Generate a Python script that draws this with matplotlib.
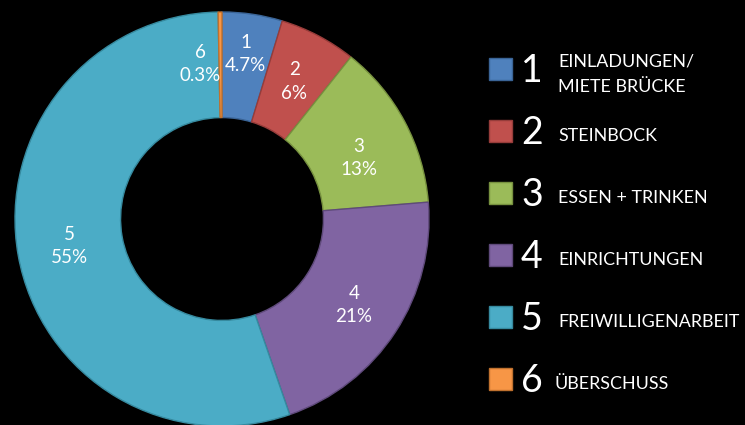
import matplotlib
matplotlib.use("Agg")
import matplotlib.pyplot as plt
import matplotlib.patches as mpatches
import numpy as np

numbers = ["1", "2", "3", "4", "5", "6"]
values = [4.7, 6, 13, 21, 55, 0.3]
pct_labels = ["4.7%", "6%", "13%", "21%", "55%", "0.3%"]
legend_labels = ["EINLADUNGEN/\nMIETE BRÜCKE", "STEINBOCK", "ESSEN + TRINKEN",
                 "EINRICHTUNGEN", "FREIWILLIGENARBEIT", "ÜBERSCHUSS"]
colors = ["#4F81BD", "#C0504D", "#9BBB59", "#8064A2", "#4BACC6", "#F79646"]
edges = ["#3A6496", "#963C3A", "#77913F", "#5F4A7B", "#368A9F", "#C0712E"]

W, H = 745, 425
fig = plt.figure(figsize=(W / 100, H / 100), dpi=100, facecolor="black")
FONT = "Lato"

cx, cy, R = 222, 219, 207
ax = fig.add_axes([(cx - R) / W, (H - cy - R) / H, 2 * R / W, 2 * R / H])
ax.set_facecolor("black")
ax.axis("off")
wedges, _ = ax.pie(values, colors=colors, startangle=90, counterclock=False,
                   radius=1.0, wedgeprops=dict(width=0.51, linewidth=1.0))
for w, e in zip(wedges, edges):
    w.set_edgecolor(e)
ax.set_xlim(-1, 1)
ax.set_ylim(-1, 1)

# labels inside ring
label_r = 0.75
offsets = {5: (-0.097, 0.0), 0: (0.005, 0.055), 2: (0.0, -0.06), 3: (0.01, -0.005)}
for i, w in enumerate(wedges):
    ang = np.deg2rad((w.theta1 + w.theta2) / 2)
    x, y = label_r * np.cos(ang), label_r * np.sin(ang)
    dx, dy = offsets.get(i, (0, 0))
    ax.text(x + dx, y + dy, numbers[i] + "\n" + pct_labels[i], ha="center", va="center",
            color="white", fontsize=13.5, family=FONT, linespacing=1.45)

# legend
row_y0, row_dy = 69, 62
for i in range(len(values)):
    yc = row_y0 + i * row_dy
    sq = mpatches.Rectangle((489 / W, 1 - (yc + 11) / H), 23 / W, 22 / H,
                            transform=fig.transFigure, facecolor=colors[i],
                            edgecolor=edges[i], linewidth=1.0)
    fig.add_artist(sq)
    fig.text(521 / W, 1 - (yc + 2) / H, numbers[i], color="white", fontsize=27,
             family=FONT, ha="left", va="center")
    tx = 554 if i == 5 else 558
    fig.text(tx / W, 1 - (yc + 5) / H, legend_labels[i], color="white", fontsize=12.9,
             family=FONT, ha="left", va="center", linespacing=1.7)

fig.savefig("out.png", dpi=100, facecolor="black")
